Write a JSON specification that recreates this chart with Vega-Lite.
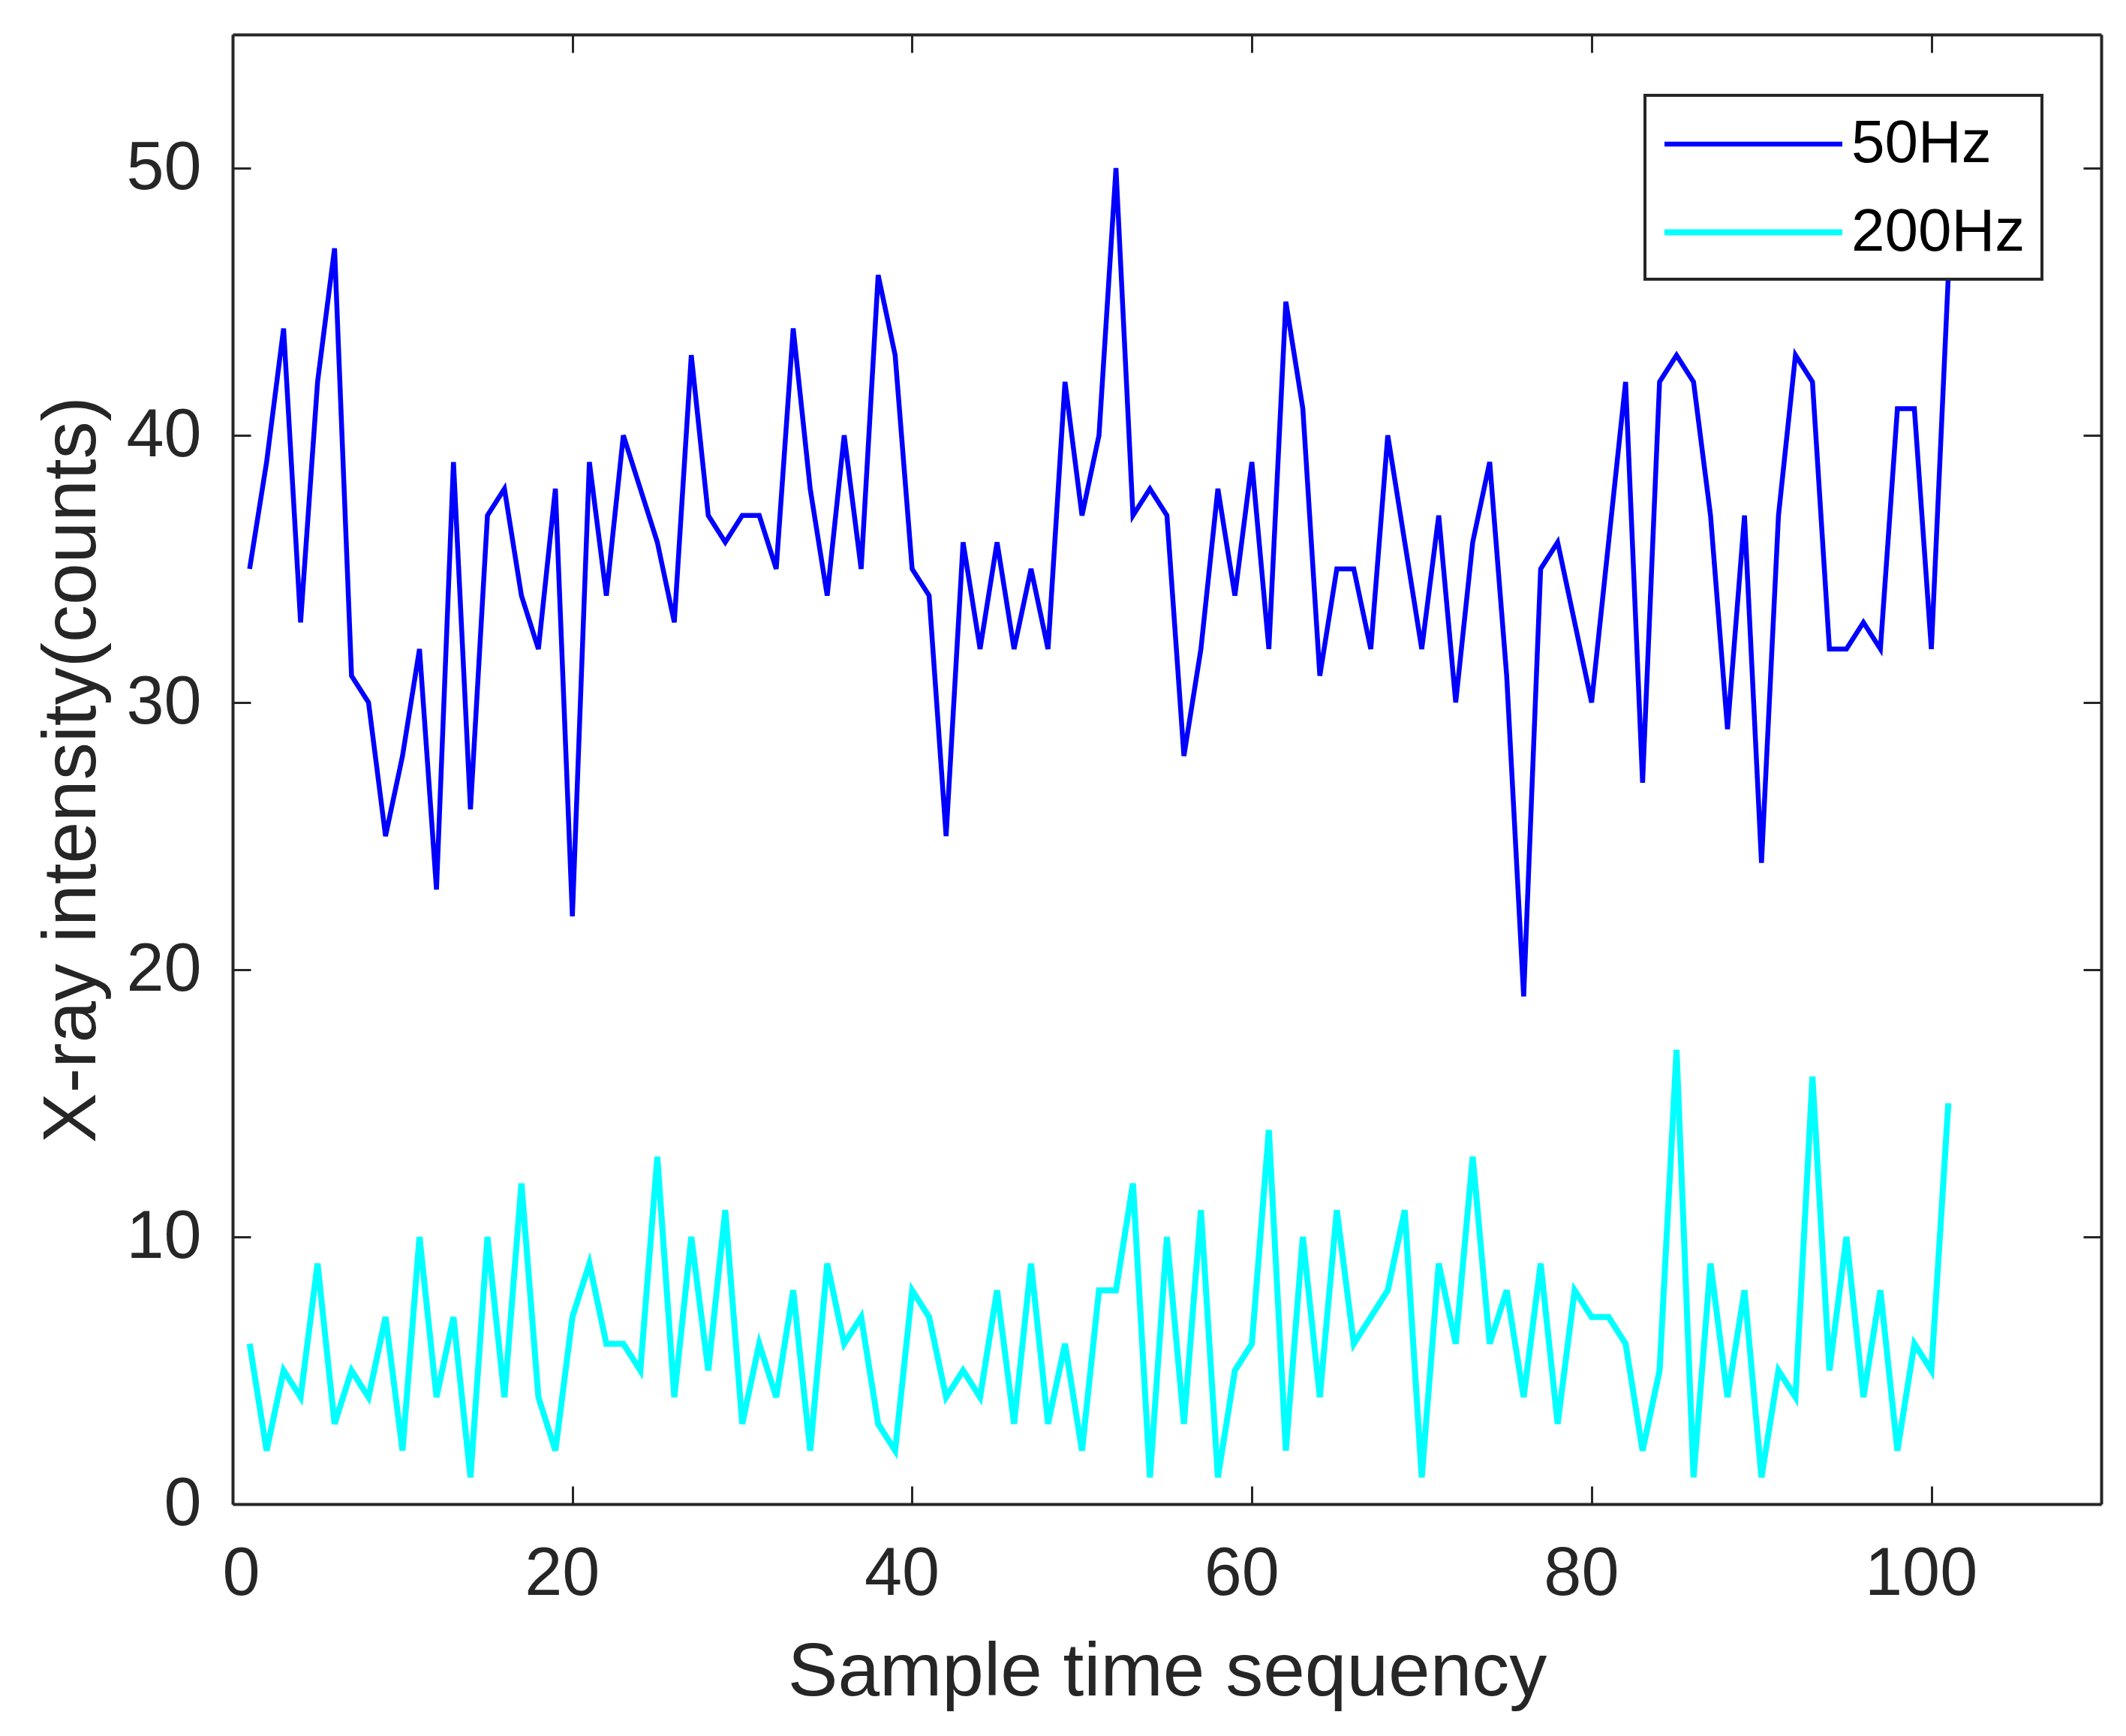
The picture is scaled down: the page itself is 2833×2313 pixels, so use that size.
{
  "$schema": "https://vega.github.io/schema/vega-lite/v6.json",
  "width": 2490,
  "height": 1958,
  "autosize": {"type": "none"},
  "padding": {"left": 310, "top": 46, "right": 33, "bottom": 309},
  "background": "white",
  "config": {
    "view": {"stroke": null},
    "font": "Liberation Sans",
    "legend": {"strokeWidth": 4}
  },
  "data": {"values": [
    {"t":1,"v":35,"s":"50Hz"},{"t":2,"v":39,"s":"50Hz"},{"t":3,"v":44,"s":"50Hz"},{"t":4,"v":33,"s":"50Hz"},{"t":5,"v":42,"s":"50Hz"},{"t":6,"v":47,"s":"50Hz"},{"t":7,"v":31,"s":"50Hz"},{"t":8,"v":30,"s":"50Hz"},{"t":9,"v":25,"s":"50Hz"},{"t":10,"v":28,"s":"50Hz"},
    {"t":11,"v":32,"s":"50Hz"},{"t":12,"v":23,"s":"50Hz"},{"t":13,"v":39,"s":"50Hz"},{"t":14,"v":26,"s":"50Hz"},{"t":15,"v":37,"s":"50Hz"},{"t":16,"v":38,"s":"50Hz"},{"t":17,"v":34,"s":"50Hz"},{"t":18,"v":32,"s":"50Hz"},{"t":19,"v":38,"s":"50Hz"},{"t":20,"v":22,"s":"50Hz"},
    {"t":21,"v":39,"s":"50Hz"},{"t":22,"v":34,"s":"50Hz"},{"t":23,"v":40,"s":"50Hz"},{"t":24,"v":38,"s":"50Hz"},{"t":25,"v":36,"s":"50Hz"},{"t":26,"v":33,"s":"50Hz"},{"t":27,"v":43,"s":"50Hz"},{"t":28,"v":37,"s":"50Hz"},{"t":29,"v":36,"s":"50Hz"},{"t":30,"v":37,"s":"50Hz"},
    {"t":31,"v":37,"s":"50Hz"},{"t":32,"v":35,"s":"50Hz"},{"t":33,"v":44,"s":"50Hz"},{"t":34,"v":38,"s":"50Hz"},{"t":35,"v":34,"s":"50Hz"},{"t":36,"v":40,"s":"50Hz"},{"t":37,"v":35,"s":"50Hz"},{"t":38,"v":46,"s":"50Hz"},{"t":39,"v":43,"s":"50Hz"},{"t":40,"v":35,"s":"50Hz"},
    {"t":41,"v":34,"s":"50Hz"},{"t":42,"v":25,"s":"50Hz"},{"t":43,"v":36,"s":"50Hz"},{"t":44,"v":32,"s":"50Hz"},{"t":45,"v":36,"s":"50Hz"},{"t":46,"v":32,"s":"50Hz"},{"t":47,"v":35,"s":"50Hz"},{"t":48,"v":32,"s":"50Hz"},{"t":49,"v":42,"s":"50Hz"},{"t":50,"v":37,"s":"50Hz"},
    {"t":51,"v":40,"s":"50Hz"},{"t":52,"v":50,"s":"50Hz"},{"t":53,"v":37,"s":"50Hz"},{"t":54,"v":38,"s":"50Hz"},{"t":55,"v":37,"s":"50Hz"},{"t":56,"v":28,"s":"50Hz"},{"t":57,"v":32,"s":"50Hz"},{"t":58,"v":38,"s":"50Hz"},{"t":59,"v":34,"s":"50Hz"},{"t":60,"v":39,"s":"50Hz"},
    {"t":61,"v":32,"s":"50Hz"},{"t":62,"v":45,"s":"50Hz"},{"t":63,"v":41,"s":"50Hz"},{"t":64,"v":31,"s":"50Hz"},{"t":65,"v":35,"s":"50Hz"},{"t":66,"v":35,"s":"50Hz"},{"t":67,"v":32,"s":"50Hz"},{"t":68,"v":40,"s":"50Hz"},{"t":69,"v":36,"s":"50Hz"},{"t":70,"v":32,"s":"50Hz"},
    {"t":71,"v":37,"s":"50Hz"},{"t":72,"v":30,"s":"50Hz"},{"t":73,"v":36,"s":"50Hz"},{"t":74,"v":39,"s":"50Hz"},{"t":75,"v":31,"s":"50Hz"},{"t":76,"v":19,"s":"50Hz"},{"t":77,"v":35,"s":"50Hz"},{"t":78,"v":36,"s":"50Hz"},{"t":79,"v":33,"s":"50Hz"},{"t":80,"v":30,"s":"50Hz"},
    {"t":81,"v":36,"s":"50Hz"},{"t":82,"v":42,"s":"50Hz"},{"t":83,"v":27,"s":"50Hz"},{"t":84,"v":42,"s":"50Hz"},{"t":85,"v":43,"s":"50Hz"},{"t":86,"v":42,"s":"50Hz"},{"t":87,"v":37,"s":"50Hz"},{"t":88,"v":29,"s":"50Hz"},{"t":89,"v":37,"s":"50Hz"},{"t":90,"v":24,"s":"50Hz"},
    {"t":91,"v":37,"s":"50Hz"},{"t":92,"v":43,"s":"50Hz"},{"t":93,"v":42,"s":"50Hz"},{"t":94,"v":32,"s":"50Hz"},{"t":95,"v":32,"s":"50Hz"},{"t":96,"v":33,"s":"50Hz"},{"t":97,"v":32,"s":"50Hz"},{"t":98,"v":41,"s":"50Hz"},{"t":99,"v":41,"s":"50Hz"},{"t":100,"v":32,"s":"50Hz"},{"t":101,"v":46,"s":"50Hz"},
    {"t":1,"v":6,"s":"200Hz"},{"t":2,"v":2,"s":"200Hz"},{"t":3,"v":5,"s":"200Hz"},{"t":4,"v":4,"s":"200Hz"},{"t":5,"v":9,"s":"200Hz"},{"t":6,"v":3,"s":"200Hz"},{"t":7,"v":5,"s":"200Hz"},{"t":8,"v":4,"s":"200Hz"},{"t":9,"v":7,"s":"200Hz"},{"t":10,"v":2,"s":"200Hz"},
    {"t":11,"v":10,"s":"200Hz"},{"t":12,"v":4,"s":"200Hz"},{"t":13,"v":7,"s":"200Hz"},{"t":14,"v":1,"s":"200Hz"},{"t":15,"v":10,"s":"200Hz"},{"t":16,"v":4,"s":"200Hz"},{"t":17,"v":12,"s":"200Hz"},{"t":18,"v":4,"s":"200Hz"},{"t":19,"v":2,"s":"200Hz"},{"t":20,"v":7,"s":"200Hz"},
    {"t":21,"v":9,"s":"200Hz"},{"t":22,"v":6,"s":"200Hz"},{"t":23,"v":6,"s":"200Hz"},{"t":24,"v":5,"s":"200Hz"},{"t":25,"v":13,"s":"200Hz"},{"t":26,"v":4,"s":"200Hz"},{"t":27,"v":10,"s":"200Hz"},{"t":28,"v":5,"s":"200Hz"},{"t":29,"v":11,"s":"200Hz"},{"t":30,"v":3,"s":"200Hz"},
    {"t":31,"v":6,"s":"200Hz"},{"t":32,"v":4,"s":"200Hz"},{"t":33,"v":8,"s":"200Hz"},{"t":34,"v":2,"s":"200Hz"},{"t":35,"v":9,"s":"200Hz"},{"t":36,"v":6,"s":"200Hz"},{"t":37,"v":7,"s":"200Hz"},{"t":38,"v":3,"s":"200Hz"},{"t":39,"v":2,"s":"200Hz"},{"t":40,"v":8,"s":"200Hz"},
    {"t":41,"v":7,"s":"200Hz"},{"t":42,"v":4,"s":"200Hz"},{"t":43,"v":5,"s":"200Hz"},{"t":44,"v":4,"s":"200Hz"},{"t":45,"v":8,"s":"200Hz"},{"t":46,"v":3,"s":"200Hz"},{"t":47,"v":9,"s":"200Hz"},{"t":48,"v":3,"s":"200Hz"},{"t":49,"v":6,"s":"200Hz"},{"t":50,"v":2,"s":"200Hz"},
    {"t":51,"v":8,"s":"200Hz"},{"t":52,"v":8,"s":"200Hz"},{"t":53,"v":12,"s":"200Hz"},{"t":54,"v":1,"s":"200Hz"},{"t":55,"v":10,"s":"200Hz"},{"t":56,"v":3,"s":"200Hz"},{"t":57,"v":11,"s":"200Hz"},{"t":58,"v":1,"s":"200Hz"},{"t":59,"v":5,"s":"200Hz"},{"t":60,"v":6,"s":"200Hz"},
    {"t":61,"v":14,"s":"200Hz"},{"t":62,"v":2,"s":"200Hz"},{"t":63,"v":10,"s":"200Hz"},{"t":64,"v":4,"s":"200Hz"},{"t":65,"v":11,"s":"200Hz"},{"t":66,"v":6,"s":"200Hz"},{"t":67,"v":7,"s":"200Hz"},{"t":68,"v":8,"s":"200Hz"},{"t":69,"v":11,"s":"200Hz"},{"t":70,"v":1,"s":"200Hz"},
    {"t":71,"v":9,"s":"200Hz"},{"t":72,"v":6,"s":"200Hz"},{"t":73,"v":13,"s":"200Hz"},{"t":74,"v":6,"s":"200Hz"},{"t":75,"v":8,"s":"200Hz"},{"t":76,"v":4,"s":"200Hz"},{"t":77,"v":9,"s":"200Hz"},{"t":78,"v":3,"s":"200Hz"},{"t":79,"v":8,"s":"200Hz"},{"t":80,"v":7,"s":"200Hz"},
    {"t":81,"v":7,"s":"200Hz"},{"t":82,"v":6,"s":"200Hz"},{"t":83,"v":2,"s":"200Hz"},{"t":84,"v":5,"s":"200Hz"},{"t":85,"v":17,"s":"200Hz"},{"t":86,"v":1,"s":"200Hz"},{"t":87,"v":9,"s":"200Hz"},{"t":88,"v":4,"s":"200Hz"},{"t":89,"v":8,"s":"200Hz"},{"t":90,"v":1,"s":"200Hz"},
    {"t":91,"v":5,"s":"200Hz"},{"t":92,"v":4,"s":"200Hz"},{"t":93,"v":16,"s":"200Hz"},{"t":94,"v":5,"s":"200Hz"},{"t":95,"v":10,"s":"200Hz"},{"t":96,"v":4,"s":"200Hz"},{"t":97,"v":8,"s":"200Hz"},{"t":98,"v":2,"s":"200Hz"},{"t":99,"v":6,"s":"200Hz"},{"t":100,"v":5,"s":"200Hz"},{"t":101,"v":15,"s":"200Hz"}
  ]},
  "layer": [
    {
      "mark": {"type": "line", "clip": true},
      "encoding": {
        "x": {
          "field": "t", "type": "quantitative",
          "scale": {"domain": [0, 110], "nice": false, "zero": false},
          "axis": {
            "orient": "bottom", "values": [0, 20, 40, 60, 80, 100], "grid": false,
            "title": "Sample time sequency",
            "domainColor": "#262626", "domainWidth": 4,
            "tickColor": "#262626", "tickWidth": 3, "tickSize": -24,
            "labelFont": "Liberation Sans", "labelFontSize": 90, "labelColor": "#262626", "labelPadding": 73, "labelOffset": -14,
            "titleFont": "Liberation Sans", "titleFontSize": 100, "titleFontWeight": "normal", "titleColor": "#262626", "titlePadding": 37
          }
        },
        "y": {
          "field": "v", "type": "quantitative",
          "scale": {"domain": [0, 55], "nice": false, "zero": false},
          "axis": {
            "orient": "left", "values": [0, 10, 20, 30, 40, 50], "grid": false,
            "title": "X-ray intensity(counts)",
            "domainColor": "#262626", "domainWidth": 4,
            "tickColor": "#262626", "tickWidth": 3, "tickSize": -24,
            "labelFont": "Liberation Sans", "labelFontSize": 90, "labelColor": "#262626", "labelPadding": 66,
            "titleFont": "Liberation Sans", "titleFontSize": 100, "titleFontWeight": "normal", "titleColor": "#262626", "titlePadding": 20
          }
        },
        "color": {
          "field": "s", "type": "nominal",
          "scale": {"domain": ["50Hz", "200Hz"], "range": ["#0000ff", "#00ffff"]},
          "legend": {
            "orient": "none", "legendX": 1882, "legendY": 81, "title": null,
            "padding": 22, "strokeColor": "#262626", "fillColor": "white",
            "symbolType": "M-1,0H5", "symbolSize": 6241, "symbolStrokeWidth": 6,
            "labelFont": "Liberation Sans", "labelFontSize": 80, "labelColor": "#000000",
            "labelOffset": 166, "rowPadding": 34, "labelLimit": 0
          }
        },
        "strokeWidth": {
          "field": "s", "type": "nominal",
          "scale": {"domain": ["50Hz", "200Hz"], "range": [6.5, 8]},
          "legend": null
        }
      }
    },
    {
      "mark": {"type": "line", "opacity": 0},
      "encoding": {
        "x": {
          "field": "t", "type": "quantitative",
          "axis": {
            "orient": "top", "values": [0, 20, 40, 60, 80, 100], "grid": false, "labels": false, "title": null,
            "domainColor": "#262626", "domainWidth": 4,
            "tickColor": "#262626", "tickWidth": 3, "tickSize": -24
          }
        },
        "y": {
          "field": "v", "type": "quantitative",
          "axis": {
            "orient": "right", "values": [0, 10, 20, 30, 40, 50], "grid": false, "labels": false, "title": null,
            "domainColor": "#262626", "domainWidth": 4,
            "tickColor": "#262626", "tickWidth": 3, "tickSize": -24
          }
        }
      }
    }
  ],
  "resolve": {"axis": {"x": "independent", "y": "independent"}}
}
